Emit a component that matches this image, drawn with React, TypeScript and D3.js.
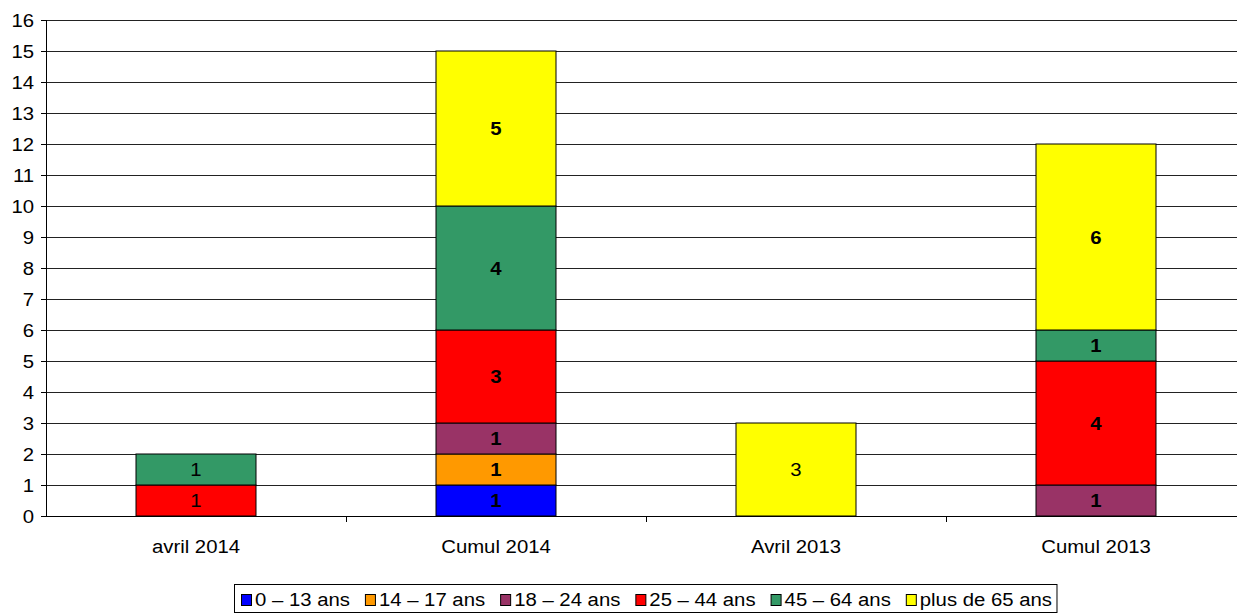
import { useEffect, useRef } from 'react';
import * as d3 from 'd3';

const categories = ['avril 2014', 'Cumul 2014', 'Avril 2013', 'Cumul 2013'];
const boldCats = ['Cumul 2014', 'Cumul 2013'];
const seriesNames = ['0 – 13 ans', '14 – 17 ans', '18 – 24 ans', '25 – 44 ans', '45 – 64 ans', 'plus de 65 ans'];
const seriesColors = ['#0000ff', '#ff9900', '#993366', '#ff0000', '#339966', '#ffff00'];
// values per category, in series order
const v0_13 = [0, 1, 0, 0];
const v14_17 = [0, 1, 0, 0];
const v18_24 = [0, 1, 0, 1];
const v25_44 = [1, 3, 0, 4];
const v45_64 = [1, 4, 0, 1];
const v65 = [0, 5, 3, 6];
const yTicks = d3.range(0, 17);

const W = 1237;
const H = 614;
const SX = 1.13; // the original text is drawn a bit wide

const App = () => {
  const svgRef = useRef<SVGSVGElement>(null);

  useEffect(() => {
    const svg = d3.select(svgRef.current);
    svg.selectAll('*').remove();
    const font = '"Liberation Sans", Arial, sans-serif';

    // text helper, stretched horizontally
    const label = (parent: any, tx: number, ty: number, txt: string | number, anchor: string, size: number, bold = false) => {
      const t = parent.append('g').attr('transform', `translate(${tx},${ty}) scale(${SX},1)`)
        .append('text')
        .attr('text-anchor', anchor)
        .attr('font-family', font).attr('font-size', size)
        .attr('font-weight', bold ? 'bold' : 'normal')
        .attr('fill', '#000')
        .text(txt);
      return t;
    };

    const left = 46, right = 1246, top = 20, bottom = 516;
    const x = d3.scaleBand().domain(categories).range([left, right]).paddingInner(0.6).paddingOuter(0.3);
    const y = d3.scaleLinear().domain([0, 16]).range([bottom, top]);

    const table = categories.map((c, i) => ({
      cat: c,
      s0: v0_13[i], s1: v14_17[i], s2: v18_24[i], s3: v25_44[i], s4: v45_64[i], s5: v65[i],
    }));
    const keys = ['s0', 's1', 's2', 's3', 's4', 's5'];
    const stacked = d3.stack<any>().keys(keys)(table);

    // grid
    svg.append('g')
      .selectAll('line')
      .data(yTicks.slice(1))
      .join('line')
      .attr('x1', left).attr('x2', W)
      .attr('y1', d => Math.round(y(d)) + 0.5).attr('y2', d => Math.round(y(d)) + 0.5)
      .attr('stroke', '#222').attr('stroke-width', 1);

    // bars
    stacked.forEach((layer, si) => {
      const g = svg.append('g');
      layer.forEach((d: any) => {
        const val = d[1] - d[0];
        if (val <= 0) return;
        const cat = d.data.cat;
        const bx = x(cat)!;
        g.append('rect')
          .attr('x', bx).attr('width', x.bandwidth())
          .attr('y', y(d[1])).attr('height', y(d[0]) - y(d[1]))
          .attr('fill', seriesColors[si]).attr('stroke', '#000').attr('stroke-width', 1);
        label(g, bx + x.bandwidth() / 2, (y(d[0]) + y(d[1])) / 2 + 6.5, val, 'middle', 18, boldCats.includes(cat));
      });
    });

    // y axis
    const yAxis = svg.append('g');
    yAxis.append('line').attr('x1', left + 0.5).attr('x2', left + 0.5).attr('y1', top).attr('y2', bottom).attr('stroke', '#000');
    yTicks.forEach(t => {
      const yy = Math.round(y(t)) + 0.5;
      yAxis.append('line').attr('x1', left - 5).attr('x2', left).attr('y1', yy).attr('y2', yy).attr('stroke', '#000');
      label(yAxis, left - 12, yy + 6.5, t, 'end', 18);
    });

    // x axis
    const xAxis = svg.append('g');
    xAxis.append('line').attr('x1', left).attr('x2', W).attr('y1', bottom + 0.5).attr('y2', bottom + 0.5).attr('stroke', '#000');
    const step = x.step();
    categories.forEach((c, i) => {
      const tx = Math.round(left + step * (i + 1)) + 0.5;
      if (i < categories.length - 1) {
        xAxis.append('line').attr('x1', tx).attr('x2', tx).attr('y1', bottom).attr('y2', bottom + 6).attr('stroke', '#000');
      }
      label(xAxis, x(c)! + x.bandwidth() / 2, 553, c, 'middle', 18);
    });

    // legend
    const lg = svg.append('g');
    const box = lg.append('rect').attr('x', 234.5).attr('y', 584.5).attr('height', 28)
      .attr('fill', '#fff').attr('stroke', '#000');
    let cx = 241;
    seriesNames.forEach((n, i) => {
      lg.append('rect').attr('x', cx + 0.5).attr('y', 594.5).attr('width', 10).attr('height', 11)
        .attr('fill', seriesColors[i]).attr('stroke', '#000');
      const t = label(lg, cx + 14, 606, n, 'start', 18);
      const w = (t.node() as SVGTextElement).getComputedTextLength() * SX;
      cx += 14 + w + (i < seriesNames.length - 1 ? 15 : 5);
    });
    box.attr('width', cx - 234.5);
  }, []);

  return (
    <svg ref={svgRef} width={W} height={H}
      style={{ position: 'absolute', left: 0, top: 0, display: 'block', background: '#fff' }} />
  );
};

export default App;
